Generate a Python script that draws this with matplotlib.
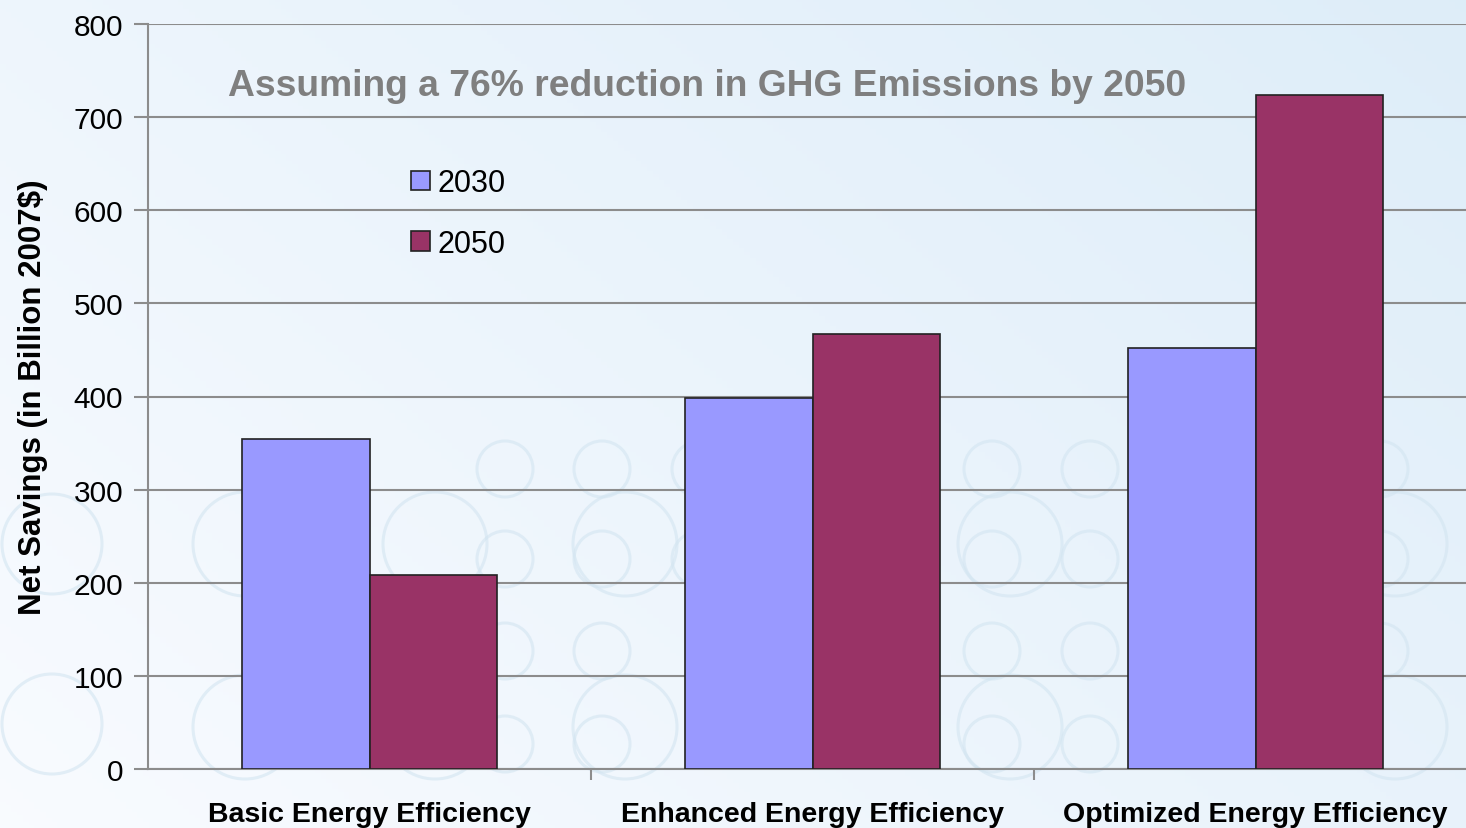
import numpy as np
import matplotlib
matplotlib.use("Agg")
from matplotlib import pyplot as plt
from matplotlib.patches import Circle

plt.rcParams['font.family'] = ['Liberation Sans', 'DejaVu Sans']

categories = ["Basic Energy Efficiency", "Enhanced Energy Efficiency", "Optimized Energy Efficiency"]
series_names = ["2030", "2050"]
savings_2030 = [354, 398, 452]
savings_2050 = [208, 467, 724]
y_ticks = [0, 100, 200, 300, 400, 500, 600, 700, 800]
title_text = "Assuming a 76% reduction in GHG Emissions by 2050"
y_label = "Net Savings (in Billion 2007$)"

col_2030 = "#9999ff"
col_2050 = "#993366"

W, H = 1466, 829
fig = plt.figure(figsize=(W / 100, H / 100), dpi=100)

# background: pale gradient, a few faint rings (pixel coordinates)
bg = fig.add_axes([0, 0, 1, 1], zorder=0)
grad = np.linspace(0, 1, 256)
gx, gy = np.meshgrid(grad, grad)
mix = 0.6 * gx + 0.4 * (1 - gy)
c0 = np.array([0.975, 0.985, 1.0])
c1 = np.array([0.87, 0.93, 0.975])
img = c0[None, None, :] * (1 - mix[..., None]) + c1[None, None, :] * mix[..., None]
bg.imshow(img, extent=[0, W, H, 0], aspect='auto')
rings = [(505, 470, 28), (602, 470, 28), (505, 560, 28), (602, 560, 28), (505, 652, 28), (602, 652, 28),
         (505, 745, 28), (602, 745, 28), (700, 470, 28), (700, 560, 28), (992, 470, 28), (1090, 470, 28),
         (992, 560, 28), (1090, 560, 28), (992, 652, 28), (1090, 652, 28), (992, 745, 28), (1090, 745, 28),
         (1380, 470, 28), (1380, 560, 28), (1380, 652, 28),
         (245, 545, 52), (435, 545, 52), (625, 545, 52), (1010, 545, 52), (1395, 545, 52),
         (245, 728, 52), (435, 728, 52), (625, 728, 52), (1010, 728, 52), (1395, 728, 52),
         (52, 545, 50), (52, 725, 50)]
for cx, cy, r in rings:
    bg.add_patch(Circle((cx, cy), r, fill=False, edgecolor="#d3e5f1", linewidth=2.2, alpha=0.6))
bg.set_xlim(0, W)
bg.set_ylim(H, 0)
bg.axis('off')

ax = fig.add_axes([148 / W, 1 - 770 / H, 1329 / W, 745 / H], zorder=1)
ax.patch.set_alpha(0)

x = np.arange(len(categories))
w = 0.287
ax.bar(x - w / 2, savings_2030, w, color=col_2030, edgecolor="#222222", linewidth=1.2,
       label=series_names[0], zorder=3)
ax.bar(x + w / 2, savings_2050, w, color=col_2050, edgecolor="#222222", linewidth=1.2,
       label=series_names[1], zorder=3)

ax.set_xlim(-0.5, 2.5)
ax.set_ylim(0, 800)
ax.set_yticks(y_ticks)
ax.set_yticklabels([str(t) for t in y_ticks], fontsize=21.5)
ax.yaxis.grid(True, color="#8c8c8c", linewidth=1.5, zorder=1)
ax.set_axisbelow(True)

ax.set_xticks(x)
ax.set_xticklabels(categories, fontsize=20.5, fontweight='bold')
ax.tick_params(axis='x', length=0, pad=23)
ax.set_xticks([0.5, 1.5], minor=True)
ax.tick_params(axis='x', which='minor', length=8, color="#8c8c8c", width=1.5)
ax.tick_params(axis='y', length=10, color="#8c8c8c", width=1.5, pad=8)

for s in ['top', 'right']:
    ax.spines[s].set_visible(False)
for s in ['left', 'bottom']:
    ax.spines[s].set_color("#8c8c8c")
    ax.spines[s].set_linewidth(1.5)

ax.set_ylabel(y_label, fontsize=22.5, fontweight='bold', labelpad=18)

fig.text(228 / W, 1 - 86 / H, title_text, fontsize=26.8, fontweight='bold',
         color="#7f7f7f", ha='left', va='center')

ax.legend(loc='upper left', bbox_to_anchor=(0.182, 0.835), frameon=False, fontsize=22,
          handlelength=0.6, handleheight=0.6, handletextpad=0.25, labelspacing=1.0,
          borderpad=0.2)

fig.savefig("out.png", dpi=100)
